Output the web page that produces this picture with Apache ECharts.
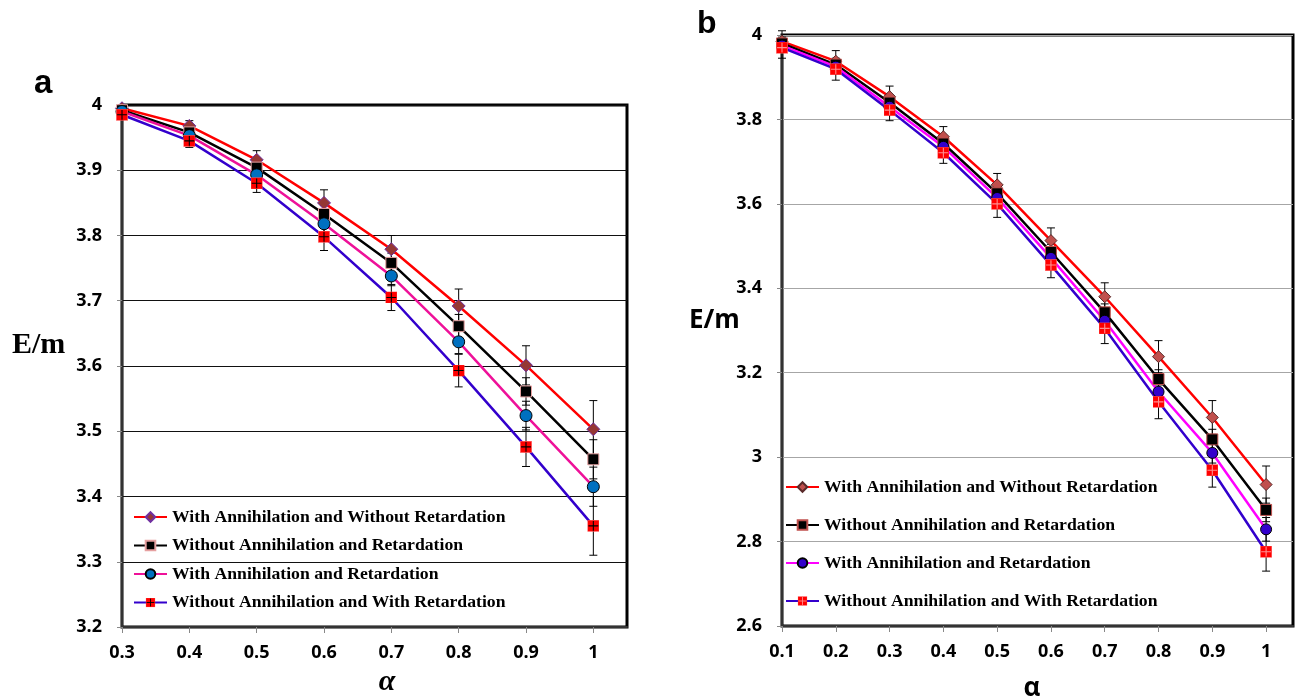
<!DOCTYPE html>
<html>
<head>
<meta charset="utf-8">
<script src="https://cdn.jsdelivr.net/npm/echarts@6/dist/echarts.min.js"></script>
<style>
  html, body { margin: 0; padding: 0; background: #fff; }
  #chart { width: 1296px; height: 697px; }
</style>
</head>
<body>
<div id="chart"></div>
<script>
// series names (legend text)
const names = [
  'With Annihilation and Without Retardation',
  'Without Annihilation and Retardation',
  'With Annihilation and Retardation',
  'Without Annihilation and With Retardation'
]

// panel a
const alphaA = [0.3, 0.4, 0.5, 0.6, 0.7, 0.8, 0.9, 1.0]
const aWithAnnNoRet = [3.995, 3.968, 3.916, 3.850, 3.779, 3.692, 3.601, 3.503]
const aNoAnnNoRet = [3.992, 3.958, 3.904, 3.833, 3.758, 3.661, 3.561, 3.457]
const aWithAnnRet = [3.990, 3.953, 3.893, 3.818, 3.738, 3.637, 3.524, 3.415]
const aNoAnnWithRet = [3.985, 3.945, 3.880, 3.798, 3.705, 3.593, 3.476, 3.355]
const aErr1 = [0.005, 0.008, 0.014, 0.020, 0.021, 0.026, 0.030, 0.044]
const aErr2 = [0.004, 0.006, 0.010, 0.013, 0.015, 0.018, 0.021, 0.030]
const aErr3 = [0.004, 0.006, 0.010, 0.013, 0.015, 0.018, 0.022, 0.030]
const aErr4 = [0.005, 0.010, 0.014, 0.021, 0.020, 0.025, 0.030, 0.045]
const aXTicks = [0.3, 0.4, 0.5, 0.6, 0.7, 0.8, 0.9, 1]

// panel b
const alphaB = [0.1, 0.2, 0.3, 0.4, 0.5, 0.6, 0.7, 0.8, 0.9, 1.0]
const bWithAnnNoRet = [3.985, 3.938, 3.854, 3.759, 3.645, 3.513, 3.380, 3.238, 3.094, 2.935]
const bNoAnnNoRet = [3.980, 3.930, 3.840, 3.743, 3.625, 3.486, 3.343, 3.185, 3.042, 2.875]
const bWithAnnRet = [3.975, 3.925, 3.830, 3.735, 3.614, 3.472, 3.323, 3.155, 3.010, 2.829]
const bNoAnnWithRet = [3.970, 3.919, 3.822, 3.721, 3.600, 3.455, 3.305, 3.131, 2.969, 2.776]
const bErr1 = [0.025, 0.025, 0.025, 0.024, 0.027, 0.030, 0.033, 0.038, 0.040, 0.044]
const bErr2 = [0.012, 0.012, 0.012, 0.014, 0.016, 0.018, 0.020, 0.022, 0.024, 0.028]
const bErr3 = [0.012, 0.012, 0.012, 0.014, 0.016, 0.018, 0.020, 0.022, 0.024, 0.028]
const bErr4 = [0.025, 0.026, 0.025, 0.025, 0.032, 0.030, 0.036, 0.040, 0.040, 0.046]
const bXTicks = [0.1, 0.2, 0.3, 0.4, 0.5, 0.6, 0.7, 0.8, 0.9, 1]

const chart = echarts.init(document.getElementById('chart'))

// red square marker with a plus through it
const plusSquare = (plus) => 'image://data:image/svg+xml;charset=utf-8,' + encodeURIComponent(
  '<svg xmlns="http://www.w3.org/2000/svg" width="22" height="22" viewBox="0 0 22 22">' +
  '<rect x="0.5" y="0.5" width="21" height="21" fill="#ff0000" stroke="#ff7070" stroke-width="1"/>' +
  '<path d="M11 2 V20 M2 11 H20" stroke="' + plus + '" stroke-width="2"/></svg>')

const errorBar = (params, api) => {
  const x = api.value(0)
  const top = api.coord([x, api.value(2)])
  const bot = api.coord([x, api.value(1)])
  const w = 4
  const st = { stroke: '#000', lineWidth: 1 }
  return {
    type: 'group',
    children: [
      { type: 'line', shape: { x1: top[0], y1: top[1], x2: bot[0], y2: bot[1] }, style: st },
      { type: 'line', shape: { x1: top[0] - w, y1: top[1], x2: top[0] + w, y2: top[1] }, style: st },
      { type: 'line', shape: { x1: bot[0] - w, y1: bot[1], x2: bot[0] + w, y2: bot[1] }, style: st }
    ]
  }
}

const errSeries = (idx, xs, vals, errs, z) => ({
  type: 'custom',
  xAxisIndex: idx,
  yAxisIndex: idx,
  renderItem: errorBar,
  encode: { x: 0, y: [1, 2] },
  z: z,
  silent: true,
  data: xs.map((x, i) => [x, vals[i] - errs[i], vals[i] + errs[i]])
})

const lineSeries = (idx, name, xs, vals, lineColor, symbol, size, fill, border) => ({
  type: 'line',
  name: name,
  xAxisIndex: idx,
  yAxisIndex: idx,
  data: xs.map((x, i) => [x, vals[i]]),
  symbol: symbol,
  symbolSize: size,
  showAllSymbol: true,
  lineStyle: { color: lineColor, width: 2.5 },
  itemStyle: { color: fill, borderColor: border, borderWidth: 1 },
  z: 3
})

// b series get a trailing space so the two legends stay separate
const nb = names.map(n => n + ' ')

const axisFont = { fontFamily: 'Open Sans', fontWeight: 'bold', fontSize: 18, color: '#000' }
const legendFont = { fontFamily: 'Liberation Serif', fontWeight: 'bold', fontSize: 17.7, color: '#000' }

const option = {
  backgroundColor: '#fff',
  animation: false,
  grid: [
    { left: 122, top: 105, width: 505, height: 522, show: true, borderColor: '#000', borderWidth: 3 },
    { left: 782, top: 35, width: 511, height: 591, show: true, borderColor: '#000', borderWidth: 3 }
  ],
  xAxis: [
    {
      type: 'value', gridIndex: 0, min: 0.3, max: 1.05, interval: 0.1,
      axisLine: { lineStyle: { color: '#333', width: 2 } },
      axisTick: { show: true, length: 6, lineStyle: { color: '#888' }, customValues: aXTicks },
      axisLabel: { ...axisFont, margin: 17, customValues: aXTicks },
      splitLine: { show: false }
    },
    {
      type: 'value', gridIndex: 1, min: 0.1, max: 1.05, interval: 0.1,
      axisLine: { lineStyle: { color: '#333', width: 2 } },
      axisTick: { show: true, length: 6, lineStyle: { color: '#888' }, customValues: bXTicks },
      axisLabel: { ...axisFont, margin: 17, customValues: bXTicks },
      splitLine: { show: false }
    }
  ],
  yAxis: [
    {
      type: 'value', gridIndex: 0, min: 3.2, max: 4, interval: 0.1,
      axisLine: { show: true, lineStyle: { color: '#333', width: 2 } },
      axisTick: { show: true, length: 5, lineStyle: { color: '#888' } },
      axisLabel: { ...axisFont, margin: 20 },
      splitLine: { lineStyle: { color: '#111', width: 1.2 } }
    },
    {
      type: 'value', gridIndex: 1, min: 2.6, max: 4, interval: 0.2,
      axisLine: { show: true, lineStyle: { color: '#333', width: 2 } },
      axisTick: { show: true, length: 5, lineStyle: { color: '#888' } },
      axisLabel: { ...axisFont, margin: 20 },
      splitLine: { lineStyle: { color: '#a6a6a6', width: 1.2 } }
    }
  ],
  legend: [
    {
      data: names, orient: 'vertical', left: 133, top: 508, padding: 0,
      itemWidth: 33, itemHeight: 12, itemGap: 10.5,
      textStyle: legendFont
    },
    {
      data: nb, orient: 'vertical', left: 785, top: 478, padding: 0,
      itemWidth: 33, itemHeight: 12, itemGap: 20,
      textStyle: legendFont
    }
  ],
  graphic: [
    { type: 'text', x: 34, y: 84, style: { text: 'a', font: 'bold 33px "Liberation Sans"', fill: '#000', verticalAlign: 'middle' } },
    { type: 'text', x: 12, y: 345, style: { text: 'E/m', font: 'bold 30px "Liberation Serif"', fill: '#000', verticalAlign: 'middle' } },
    { type: 'text', x: 387, y: 682, style: { text: 'α', font: 'bold italic 30px "Liberation Serif"', fill: '#000', align: 'center', verticalAlign: 'middle' } },
    { type: 'text', x: 697, y: 24, style: { text: 'b', font: 'bold 32px "Liberation Sans"', fill: '#000', verticalAlign: 'middle' } },
    { type: 'text', x: 689, y: 321, style: { text: 'E/m', font: 'bold 26px "Open Sans"', fill: '#000', verticalAlign: 'middle' } },
    { type: 'text', x: 1032, y: 689, style: { text: 'α', font: 'bold 26px "Open Sans"', fill: '#000', align: 'center', verticalAlign: 'middle' } }
  ],
  series: [
    errSeries(0, alphaA, aWithAnnNoRet, aErr1, 2),
    errSeries(0, alphaA, aNoAnnNoRet, aErr2, 2),
    errSeries(0, alphaA, aWithAnnRet, aErr3, 2),
    errSeries(0, alphaA, aNoAnnWithRet, aErr4, 2),
    lineSeries(0, names[0], alphaA, aWithAnnNoRet, '#ff0000', 'diamond', 13, '#953735', '#7030a0'),
    lineSeries(0, names[1], alphaA, aNoAnnNoRet, '#000000', 'rect', 11, '#000000', '#e6a0a0'),
    lineSeries(0, names[2], alphaA, aWithAnnRet, '#ee1199', 'circle', 12, '#0070c0', '#000000'),
    lineSeries(0, names[3], alphaA, aNoAnnWithRet, '#3300cc', plusSquare('#000000'), 12, '#ff0000', '#ff6666'),

    errSeries(1, alphaB, bWithAnnNoRet, bErr1, 2),
    errSeries(1, alphaB, bNoAnnNoRet, bErr2, 2),
    errSeries(1, alphaB, bWithAnnRet, bErr3, 2),
    errSeries(1, alphaB, bNoAnnWithRet, bErr4, 2),
    lineSeries(1, nb[0], alphaB, bWithAnnNoRet, '#ff0000', 'diamond', 12, '#c0504d', '#5a2a2a'),
    lineSeries(1, nb[1], alphaB, bNoAnnNoRet, '#000000', 'rect', 11, '#000000', '#c0504d'),
    lineSeries(1, nb[2], alphaB, bWithAnnRet, '#ff00ff', 'circle', 11, '#3300cc', '#000000'),
    lineSeries(1, nb[3], alphaB, bNoAnnWithRet, '#3300cc', plusSquare('#ff9090'), 12, '#ff0000', '#ff6666')
  ]
}

chart.setOption(option)
window.addEventListener('resize', () => chart.resize())
</script>
</body>
</html>
